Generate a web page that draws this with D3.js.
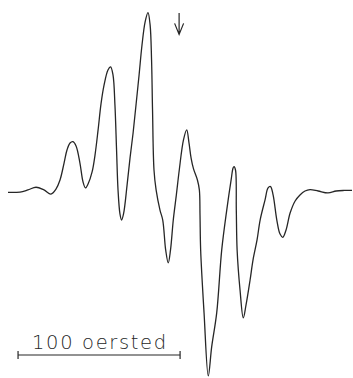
<!DOCTYPE html>
<html>
<head>
<meta charset="utf-8">
<script src="https://cdn.jsdelivr.net/npm/d3@7"></script>
<style>
  html, body { margin: 0; padding: 0; background: #fff; }
  svg { display: block; }
</style>
</head>
<body>
<svg id="chart" width="353" height="378"></svg>
<script>
// Derivative absorption trace: magnetic field offset (oersted) vs signal (arb. units)
const field = [
  0, 7.4, 12.3, 17.3, 22.2, 26.5, 29.6, 32.1, 34.6, 36.4,
  38.3, 40.1, 42.0, 44.4, 46.3, 47.8, 49.4, 51.9, 53.7, 55.6,
  57.4, 59.3, 61.7, 63.3, 64.8, 66.0, 67.0, 67.9, 69.1, 70.1,
  71.3, 73.5, 75.3, 77.2, 79.0, 80.9, 82.7, 84.6, 86.4, 87.7,
  88.6, 89.2, 90.1, 91.4, 93.8, 95.5, 97.3, 98.9, 100.3, 102.0,
  103.9, 105.7, 108.3, 110.3, 111.7, 113.0, 114.5, 116.9, 118.1, 118.5,
  118.9, 121.0, 123.6, 125.7, 128.8, 131.9, 135.0, 137.7, 138.9, 139.5,
  140.4, 140.9, 141.4, 143.2, 145.2, 146.9, 149.4, 151.2, 153.7, 155.6,
  158.6, 160.5, 162.0, 163.6, 165.9, 167.9, 169.6, 171.6, 174.1, 177.2,
  180.2, 183.3, 186.4, 191.4, 197.5, 202.5, 207.4, 212.3
];
const signal = [
  -0.8, -0.6, 0.6, 2.1, 0.6, -1.7, 1.1, 6.2, 15.7, 23.0,
  27.0, 27.7, 25.3, 15.7, 5.1, 1.7, 3.9, 10.7, 20.2, 34.3,
  48.9, 59.6, 68.0, 69.7, 65.2, 48.3, 23.0, 0.6, -12.9, -16.3,
  -12.9, 3.4, 18.5, 32.6, 48.3, 65.2, 82.0, 94.9, 100.2, 93.3,
  73.6, 45.5, 11.8, 0.6, -10.7, -16.3, -33.1, -40.4, -33.1, -16.3,
  -2.2, 11.8, 28.7, 34.3, 27.0, 18.5, 12.4, 6.2, 0.6, -13.5,
  -33.1, -68.5, -103.9, -87.6, -68.5, -33.1, -10.7, 6.2, 12.9, 13.7,
  11.8, -10.7, -33.1, -55.6, -71.3, -64.0, -50.0, -38.8, -27.5, -16.3,
  -5.1, 1.7, 2.5, -2.2, -16.3, -24.2, -26.0, -21.9, -12.4, -5.6,
  -2.2, 0, 0.8, 0, -1.1, 0, 0.3, 0.3
];

// Marker arrow position (oersted) and the scale bar
const arrowField = 105.6;
const scaleBarStart = 6.2;
const scaleBarLength = 100;
const scaleBarLabel = "100 oersted";

const svg = d3.select("#chart");
const ink = "#262626";

const x = d3.scaleLinear().domain([0, 212.3]).range([8, 352]);
const y = d3.scaleLinear().domain([0, 100]).range([191, 13]);

const points = field.map((f, i) => [f, signal[i]]);

const line = d3.line()
  .x(d => x(d[0]))
  .y(d => y(d[1]))
  .curve(d3.curveCatmullRom.alpha(0.5));

svg.append("path")
  .datum(points)
  .attr("d", line)
  .attr("fill", "none")
  .attr("stroke", ink)
  .attr("stroke-width", 1.3)
  .attr("stroke-linejoin", "round");

// Downward arrow marking the resonance position
const ax = x(arrowField);
const aTop = y(100), aBot = y(88);
svg.append("path")
  .attr("d", `M${ax},${aTop} V${aBot} M${ax - 4.5},${aBot - 11} L${ax},${aBot} L${ax + 4.5},${aBot - 11}`)
  .attr("fill", "none")
  .attr("stroke", ink)
  .attr("stroke-width", 1.2);

// Field scale bar
const bx0 = x(scaleBarStart), bx1 = x(scaleBarStart + scaleBarLength);
const by = 355;
const bar = svg.append("g").attr("stroke", ink).attr("stroke-width", 1.2);
bar.append("line").attr("x1", bx0).attr("x2", bx1).attr("y1", by).attr("y2", by);
bar.append("line").attr("x1", bx0).attr("x2", bx0).attr("y1", by - 4).attr("y2", by + 4);
bar.append("line").attr("x1", bx1).attr("x2", bx1).attr("y1", by - 4).attr("y2", by + 4);

svg.append("text")
  .attr("x", (bx0 + bx1) / 2)
  .attr("y", 349)
  .attr("text-anchor", "middle")
  .attr("font-family", "DejaVu Sans")
  .attr("font-weight", 300)
  .attr("font-size", 19.5)
  .attr("textLength", 134)
  .attr("lengthAdjust", "spacing")
  .attr("fill", ink)
  .text(scaleBarLabel);
</script>
</body>
</html>
